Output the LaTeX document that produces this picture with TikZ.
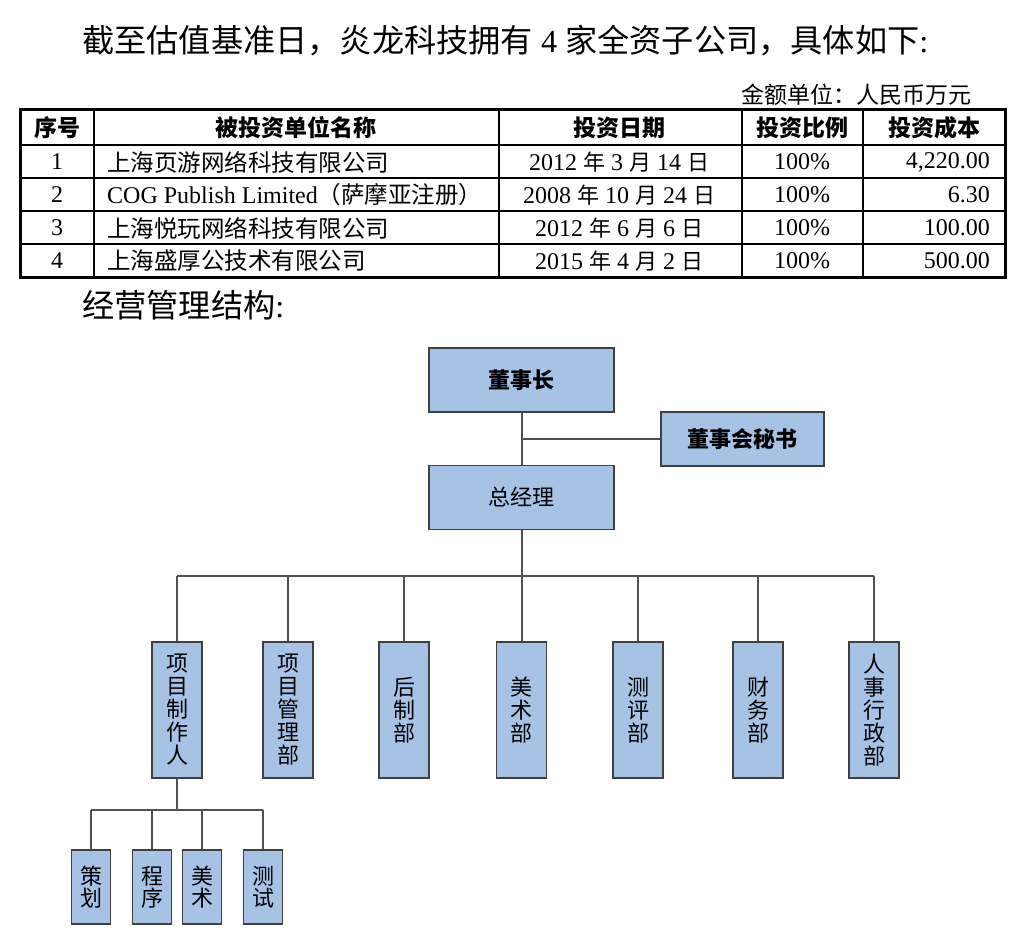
\documentclass[tikz,border=0pt]{standalone}
\usepackage{fontspec}
\setmainfont{Liberation Serif}
\newfontfamily\cjk{Noto Sans CJK SC}
\definecolor{boxblue}{HTML}{A6C3E5}
\definecolor{boxline}{HTML}{404040}
\definecolor{connline}{HTML}{505050}
\begin{document}
\begin{tikzpicture}[x=1pt,y=-1pt,
  txt/.style={inner sep=0pt,font=\fontsize{24}{26}\selectfont},
  hdr/.style={inner sep=0pt,font=\fontsize{23}{26}\selectfont\cjk\bfseries},
  ob/.style={draw=boxline,line width=1.6pt,fill=boxblue,inner sep=0pt,align=center},
  topbox/.style={ob,minimum width=185pt,minimum height=64pt,font=\fontsize{22}{24}\selectfont\cjk},
  dept/.style={ob,minimum width=50pt,minimum height=136pt,font=\fontsize{22}{23}\selectfont\cjk},
  sub/.style={ob,minimum width=39pt,minimum height=74pt,font=\fontsize{22}{22}\selectfont\cjk},
  conn/.style={draw=connline,line width=2pt}]
\useasboundingbox (0,0) rectangle (1024,941);
\fill[white] (0,0) rectangle (1024,941);

% title
\node[anchor=west,inner sep=0pt,font=\fontsize{32.2}{34}\selectfont] (title) at (82,41)
  {{\cjk 截至估值基准日，炎龙科技拥有} 4 {\cjk 家全资子公司，具体如下}:};
\node[anchor=east,inner sep=0pt,font=\fontsize{23}{26}\selectfont\cjk] (unit) at (972,95) {金额单位：人民币万元};

% table
\draw[line width=1.5pt] (20,145) -- (1005,145);
\draw[line width=1.5pt] (20,178) -- (1005,178);
\draw[line width=1.5pt] (20,211) -- (1005,211);
\draw[line width=1.5pt] (20,244) -- (1005,244);
\foreach \cx in {94,499,742,863} \draw[line width=1.5pt] (\cx,110) -- (\cx,277);
\draw[line width=3pt] (20,110) rectangle (1005,277);

\node[hdr] (h1) at (57,127.5) {序号};
\node[hdr] (h2) at (296,127.5) {被投资单位名称};
\node[hdr] (h3) at (619,127.5) {投资日期};
\node[hdr] (h4) at (802,127.5) {投资比例};
\node[hdr] (h5) at (934,127.5) {投资成本};

\node[txt] (n1) at (57,162) {1};
\node[txt] (n2) at (57,195) {2};
\node[txt] (n3) at (57,228) {3};
\node[txt] (n4) at (57,261) {4};

\node[txt,anchor=west,font=\fontsize{23.5}{26}\selectfont] (c1) at (107,162) {\cjk 上海页游网络科技有限公司};
\node[txt,anchor=west] (c2) at (107,195) {COG Publish Limited{\cjk\fontsize{23.5}{26}\selectfont （萨摩亚注册）}};
\node[txt,anchor=west,font=\fontsize{23.5}{26}\selectfont] (c3) at (107,228) {\cjk 上海悦玩网络科技有限公司};
\node[txt,anchor=west,font=\fontsize{23.5}{26}\selectfont] (c4) at (107,261) {\cjk 上海盛厚公技术有限公司};

\node[txt] (d1t) at (619,162) {2012 {\cjk\fontsize{22}{26}\selectfont 年} 3 {\cjk\fontsize{22}{26}\selectfont 月} 14 {\cjk\fontsize{22}{26}\selectfont 日}};
\node[txt] (d2t) at (619,195) {2008 {\cjk\fontsize{22}{26}\selectfont 年} 10 {\cjk\fontsize{22}{26}\selectfont 月} 24 {\cjk\fontsize{22}{26}\selectfont 日}};
\node[txt] (d3t) at (619,228) {2012 {\cjk\fontsize{22}{26}\selectfont 年} 6 {\cjk\fontsize{22}{26}\selectfont 月} 6 {\cjk\fontsize{22}{26}\selectfont 日}};
\node[txt] (d4t) at (619,261) {2015 {\cjk\fontsize{22}{26}\selectfont 年} 4 {\cjk\fontsize{22}{26}\selectfont 月} 2 {\cjk\fontsize{22}{26}\selectfont 日}};

\foreach \r/\yy in {1/162,2/195,3/228,4/261}
  \node[txt] (p\r) at (802,\yy) {100\%};

\node[txt,anchor=east] (v1) at (990,162) {4,220.00};
\node[txt,anchor=east] (v2) at (990,195) {6.30};
\node[txt,anchor=east] (v3) at (990,228) {100.00};
\node[txt,anchor=east] (v4) at (990,261) {500.00};

\node[anchor=west,inner sep=0pt,font=\fontsize{32.2}{34}\selectfont] (sect) at (82,305)
  {{\cjk 经营管理结构}:};

% org chart
\node[topbox,font=\fontsize{22}{24}\selectfont\cjk\bfseries] (dsz) at (521.5,380) {董事长};
\node[ob,minimum width=163pt,minimum height=54pt,font=\fontsize{22}{24}\selectfont\cjk\bfseries] (ms) at (742.5,439) {董事会秘书};
\node[topbox] (zjl) at (521.5,497.5) {总经理};

\node[dept] (b1) at (177,710) {项\\目\\制\\作\\人};
\node[dept] (b2) at (288,710) {项\\目\\管\\理\\部};
\node[dept] (b3) at (404,710) {后\\制\\部};
\node[dept] (b4) at (521.5,710) {美\\术\\部};
\node[dept] (b5) at (638,710) {测\\评\\部};
\node[dept] (b6) at (758,710) {财\\务\\部};
\node[dept] (b7) at (874,710) {人\\事\\行\\政\\部};

\node[sub] (s1) at (91,887) {策\\划};
\node[sub] (s2) at (152,887) {程\\序};
\node[sub] (s3) at (202,887) {美\\术};
\node[sub] (s4) at (263,887) {测\\试};

\coordinate (bus) at (521.5,576);
\coordinate (sbus) at (177,810);

\draw[conn] (dsz.south) -- (zjl.north);
\draw[conn] (dsz.south |- ms.west) -- (ms.west);
\draw[conn] (zjl.south) -- (bus);
\draw[conn] (b1.north |- bus) -- (b7.north |- bus);
\foreach \i in {1,...,7} \draw[conn] (b\i.north |- bus) -- (b\i.north);
\draw[conn] (b1.south) -- (sbus);
\draw[conn] (s1.north |- sbus) -- (s4.north |- sbus);
\foreach \i in {1,...,4} \draw[conn] (s\i.north |- sbus) -- (s\i.north);
\end{tikzpicture}
\end{document}
